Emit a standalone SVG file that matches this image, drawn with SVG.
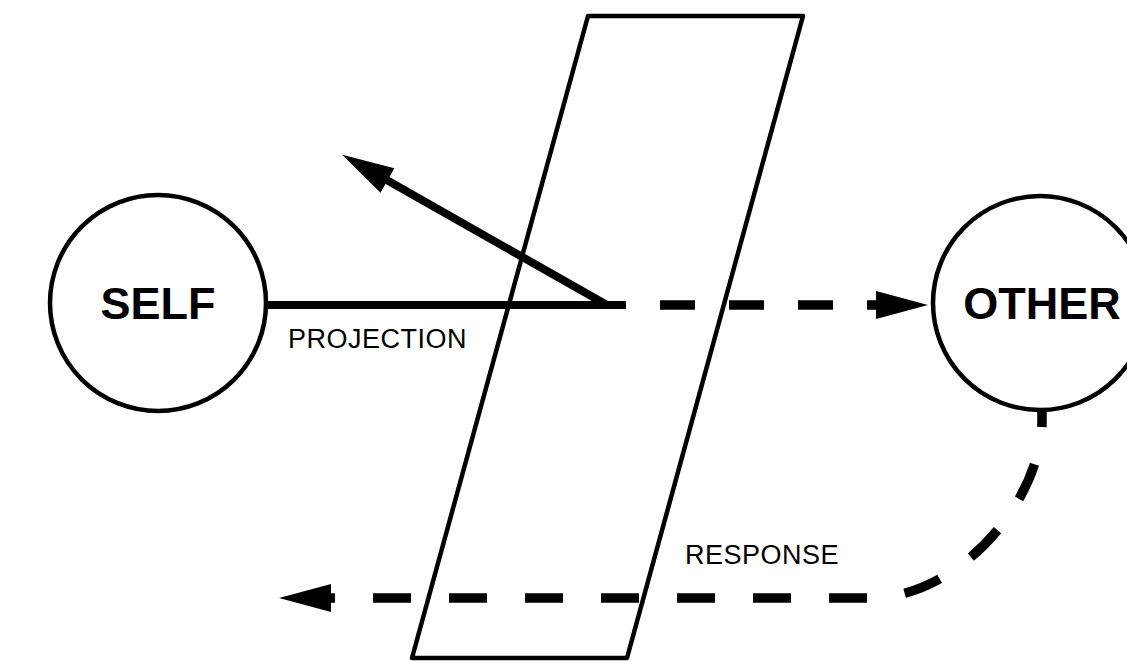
<svg xmlns="http://www.w3.org/2000/svg" width="1127" height="661" viewBox="0 0 1127 661">
  <style>
    .shape { fill: none; stroke: #000; stroke-width: 4.5; stroke-linejoin: round; }
    .node { fill: #fff; stroke: #000; stroke-width: 4.5; }
    .big { font-family: "Liberation Sans", Arial, sans-serif; font-weight: bold; font-size: 45px; fill: #000; text-anchor: middle; }
    .lbl { font-family: "Liberation Sans", Arial, sans-serif; font-size: 27px; fill: #000; letter-spacing: 0.5px; }
    .solid { fill: none; stroke: #000; stroke-width: 8; }
    .dash { fill: none; stroke: #000; stroke-width: 9.5; }
  </style>
  <defs>
    <marker id="arrow" markerUnits="userSpaceOnUse" markerWidth="60" markerHeight="30" refX="12" refY="14" orient="auto" overflow="visible">
      <path d="M0,0 L52,14 L0,28 z" fill="#000"/>
    </marker>
  </defs>

  <g id="screen">
    <polygon class="shape" points="588,16 803,16 627,658 412,658"/>
  </g>

  <g id="connectors">
    <line class="solid" x1="266" y1="305" x2="626" y2="305"/>
    <line class="solid" x1="607" y1="305" x2="377" y2="174.6" marker-end="url(#arrow)"/>
    <line class="dash" x1="660" y1="305" x2="888" y2="305" stroke-dasharray="35 34" marker-end="url(#arrow)"/>
    <path class="dash" d="M1042,389 L1042,420 C1042,500 960,598 870,598 L319,598" stroke-dasharray="38 38" marker-end="url(#arrow)"/>
  </g>

  <g id="self">
    <circle class="node" cx="158" cy="303" r="108"/>
    <text class="big" x="158" y="319">SELF</text>
  </g>

  <g id="other">
    <circle class="node" cx="1040" cy="303" r="107"/>
    <text class="big" x="1042" y="319">OTHER</text>
  </g>

  <g id="labels">
    <text class="lbl" x="288" y="348">PROJECTION</text>
    <text class="lbl" x="685" y="564">RESPONSE</text>
  </g>
</svg>
